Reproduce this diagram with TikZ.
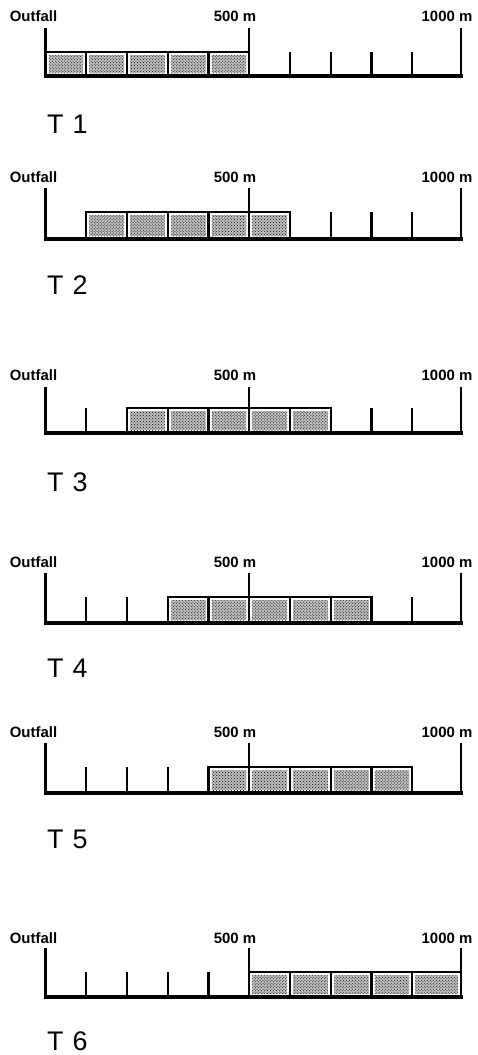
\documentclass[tikz,border=0pt]{standalone}
\usepackage{fontspec}
\setmainfont{Liberation Sans}
\usetikzlibrary{patterns}
\begin{document}
\begin{tikzpicture}[x=1bp,y=-1bp,
  axisbase/.style={line width=3.2bp, line cap=rect},
  scaletick/.style={line width=2.4bp},
  tallline/.style={line width=2bp},
  boxframe/.style={fill=white},
  stipple/.style={fill=gray!50, postaction={pattern=crosshatch dots, pattern color=black}},
  distlabel/.style={font=\bfseries\fontsize{15}{15}\selectfont, inner sep=0pt, anchor=base},
  runlabel/.style={font=\fontsize{27}{27}\selectfont, inner sep=0pt, anchor=base west},
]
\useasboundingbox (0,0) rectangle (478,1055);

% row / label line / tall top / short top / baseline / run label line / first sampled 100 m step
\foreach \r/\lab/\tall/\short/\base/\tl/\first in
  {1/16/28/52/76/124/0, 2/177/188/212/239/285/1, 3/375/387/408/433/482/2,
   4/562/573/597/623/668/3, 5/732/743/767/793/839/4, 6/938/948/972/997/1041/5}{
  % distance labels
  \node[distlabel] (outfall\r) at (33.5,\lab+5.4) {Outfall};
  \node[distlabel] (mid\r) at (235,\lab+5.4) {500 m};
  \node[distlabel] (far\r) at (447,\lab+5.4) {1000 m};
  % run label
  \node[runlabel] (run\r) at (47,\tl+9.7) {T\,\,\r};
  % sampled segments
  \foreach \i in {0,...,4}{
    \pgfmathsetmacro\bl{45.5+40.75*(\first+\i)}
    \pgfmathsetmacro\br{(\first+\i+1==10) ? 461 : 45.5+40.75*(\first+\i+1)}
    \path[boxframe] (\bl,\short) rectangle (\br,\base);
    \path[stipple] (\bl+3,\short+3) rectangle (\br-3,\base-3);
    \draw[line width=2.4bp] (\bl,\short) rectangle (\br,\base);
  }
  % short ticks outside the sampled stretch
  \foreach \j in {1,...,9}{
    \pgfmathtruncatemacro\inbox{((\j>=\first)&&(\j<=\first+5)) ? 1 : 0}
    \ifnum\inbox=0
      \ifnum\j=5 \else
        \draw[scaletick] (45.5+40.75*\j,\short) -- (45.5+40.75*\j,\base);
      \fi
    \fi
  }
  % tall markers: outfall, 500 m, 1000 m
  \draw[line width=2.4bp] (45.5,\tall) -- (45.5,\base);
  \draw[tallline] (249.25,\tall) -- (249.25,\base);
  \draw[tallline] (461,\tall) -- (461,\base);
  % base line
  \draw[axisbase] (45.5,\base) -- (461,\base);
}
\end{tikzpicture}
\end{document}
